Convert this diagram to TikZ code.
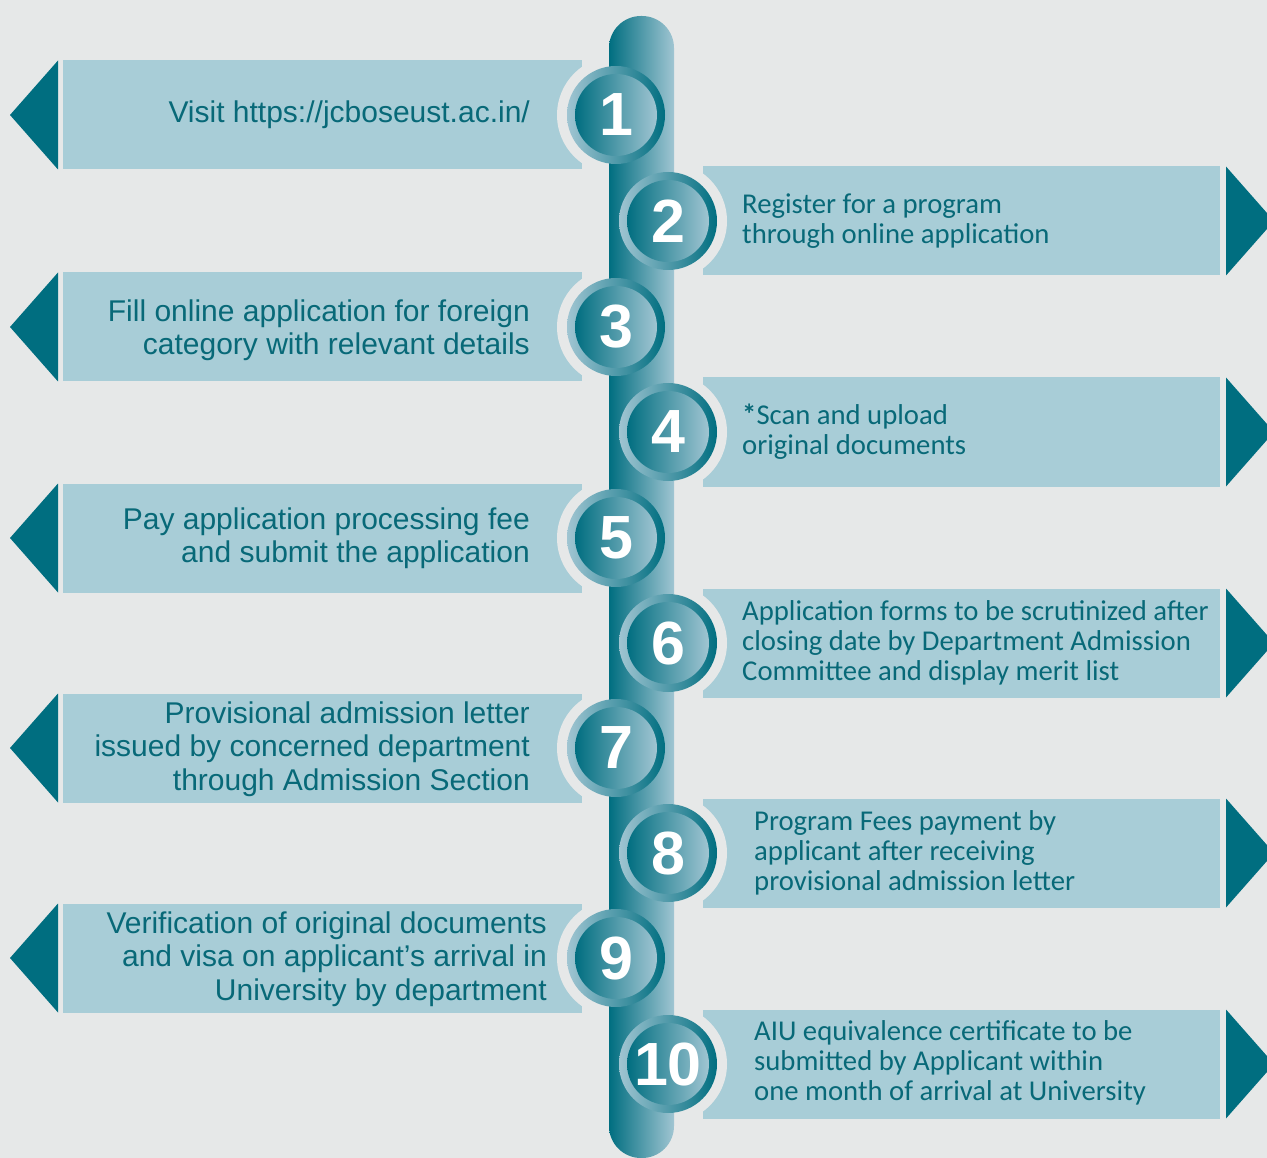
\documentclass[tikz,border=0pt]{standalone}
\usepackage{fontspec}
\setmainfont{Liberation Sans}
\newfontfamily\rfont{Carlito}
\definecolor{bg}{RGB}{230,232,232}
\definecolor{boxc}{RGB}{168,205,215}
\definecolor{darkteal}{RGB}{0,110,128}
\definecolor{lightteal}{RGB}{160,197,210}
\definecolor{txt}{RGB}{8,105,120}
\tikzset{
  boxfill/.style={fill=boxc},
  trifill/.style={fill=darkteal},
  halo/.style={fill=bg},
  ring/.style={left color=lightteal, right color=darkteal},
  disk/.style={left color=darkteal, right color=lightteal},
  num/.style={text=white, font=\fontsize{61}{61}\selectfont\bfseries, inner sep=0pt},
  ltext/.style={text=txt, align=right, anchor=east, inner sep=0pt, font=\fontsize{30}{33.5}\selectfont},
  rtext/.style={text=txt, align=left, anchor=west, inner sep=0pt, font=\rfont\fontsize{28.7}{30}\selectfont},
}
\begin{document}
\begin{tikzpicture}[x=1pt,y=-1pt]
\fill[bg] (0,0) rectangle (1267,1158);
\useasboundingbox (0,0) rectangle (1267,1158);
\clip (0,0) rectangle (1267,1158);
% left boxes
\foreach \y in {115,327,538,748,958}{
  \fill[boxfill] (63,\y-54.5) rectangle (582,\y+54.5);
  \fill[trifill] (58,\y-54.5) -- (58,\y+54.5) -- (10,\y) -- cycle;
  \fill[halo] (616,\y) circle (59);
}
% right boxes
\foreach \y in {221,432,643,853,1064}{
  \fill[boxfill] (703,\y-54.5) rectangle (1220,\y+54.5);
  \fill[trifill] (1226,\y-54.5) -- (1226,\y+54.5) -- (1274,\y) -- cycle;
  \fill[halo] (668,\y) circle (59);
}
% central bar
\shade[left color=darkteal, right color=lightteal, rounded corners=32pt] (609,16) rectangle (674,1158);
% circles
\foreach \n/\x/\y in {1/616/115,2/668/221,3/616/327,4/668/432,5/616/538,6/668/643,7/616/748,8/668/853,9/616/958,10/668/1064}{
  \shade[ring] (\x,\y) circle (49);
  \shade[disk] (\x,\y) circle (41);
  \node[num] (c\n) at (\x,\y) {\n};
}
% texts
\node[ltext] (t1) at (530,115) {Visit https://jcboseust.ac.in/};
\node[rtext] (t2) at (742,221) {Register for a program\\through online application};
\node[ltext] (t3) at (530,330) {Fill online application for foreign\\category with relevant details};
\node[rtext] (t4) at (742,432) {\textbf{*}Scan and upload\\original documents};
\node[ltext] (t5) at (530,538) {Pay application processing fee\\and submit the application};
\node[rtext] (t6) at (742,643) {Application forms to be scrutinized after\\closing date by Department Admission\\Committee and display merit list};
\node[ltext] (t7) at (530,749) {Provisional admission letter\\issued by concerned department\\through Admission Section};
\node[rtext] (t8) at (754,853) {Program Fees payment by\\applicant after receiving\\provisional admission letter};
\node[ltext] (t9) at (547,959) {Verification of original documents\\and visa on applicant’s arrival in\\University by department};
\node[rtext] (t10) at (754,1063) {AIU equivalence certificate to be\\submitted by Applicant within\\one month of arrival at University};
\end{tikzpicture}
\end{document}
